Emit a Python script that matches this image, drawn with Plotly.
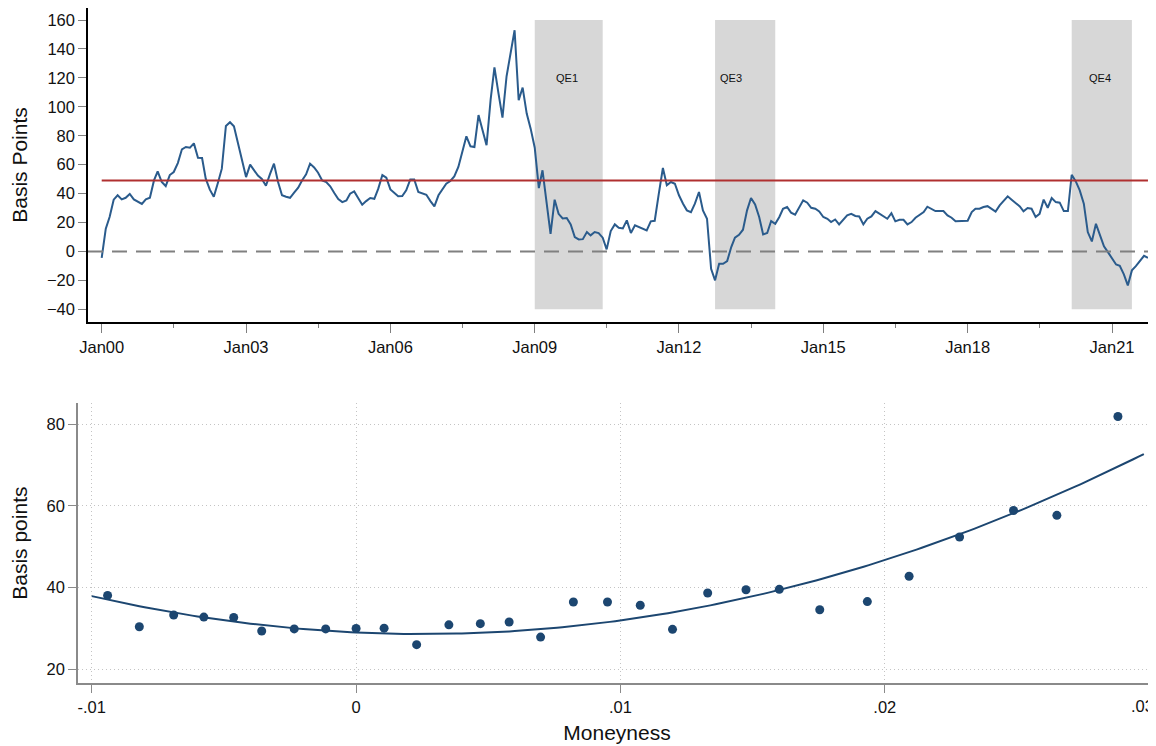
import numpy as np
import pandas as pd
import plotly.graph_objects as go

# ---------------- Top panel data (monthly, starting Jan 2000) ----------------
START_MONTH = "2000-01-01"
spread_bp = [
    -4.4, 15.7, 23.8, 35.8, 38.8, 36.0, 37.1, 39.7, 36.0, 34.6, 32.8, 36.0,      # 2000
    37.1, 49.1, 55.4, 48.0, 45.2, 52.8, 54.9, 61.1, 70.6, 72.2, 71.7, 74.7,      # 2001
    64.8, 64.6, 50.3, 42.7, 37.8, 47.3, 57.2, 86.7, 89.3, 86.5, 75.2, 64.8,      # 2002
    51.4, 60.0, 56.7, 52.4, 50.1, 45.4, 53.3, 60.7, 48.0, 38.8, 37.8, 37.1,      # 2003
    40.6, 44.1, 49.1, 53.3, 60.7, 58.1, 54.4, 49.1, 48.0, 45.0, 40.4, 36.2,      # 2004
    34.1, 35.3, 39.9, 41.5, 36.9, 32.3, 34.8, 36.9, 36.4, 43.4, 52.8, 51.0,      # 2005
    42.9, 40.6, 38.1, 38.3, 42.2, 49.8, 49.8, 41.1, 39.9, 39.2, 34.8, 31.1,      # 2006
    38.8, 42.9, 46.8, 48.7, 51.9, 58.4, 68.0, 79.6, 72.7, 72.2, 94.3, 83.3,      # 2007
    73.4, 105.0, 127.3, 109.1, 92.5, 121.1, 136.8, 152.9, 104.5, 113.3, 95.3, 84.9,  # 2008
    71.7, 43.8, 56.1, 34.0, 12.2, 35.8, 26.0, 22.8, 23.1, 18.7, 9.9, 8.3,        # 2009
    8.5, 13.4, 11.1, 13.4, 12.7, 9.5, 1.4, 14.1, 18.7, 16.4, 15.9, 21.5,         # 2010
    12.7, 18.0, 16.8, 15.7, 14.5, 20.8, 21.2, 39.9, 57.7, 45.7, 48.0, 46.8,      # 2011
    38.8, 33.0, 28.4, 27.2, 33.0, 41.1, 28.4, 22.6, -12.0, -20.0, -8.5, -8.5,    # 2012
    -6.7, 3.0, 9.5, 11.5, 15.0, 28.4, 36.9, 32.5, 23.8, 11.8, 12.7, 21.0,        # 2013
    19.1, 23.8, 29.5, 30.7, 26.8, 25.4, 30.2, 35.3, 33.7, 30.2, 29.5, 27.7,      # 2014
    23.8, 22.6, 20.3, 22.1, 18.7, 22.1, 25.0, 26.0, 24.5, 24.2, 18.7, 22.6,      # 2015
    24.2, 27.9, 26.0, 24.2, 22.6, 26.4, 20.8, 21.9, 21.9, 18.7, 20.3, 23.3,      # 2016
    25.2, 27.2, 30.9, 29.5, 27.9, 27.9, 27.9, 24.9, 23.3, 20.8, 21.0, 21.5,      # 2017
    21.2, 27.2, 29.5, 29.5, 30.7, 31.3, 29.5, 27.5, 31.8, 34.8, 38.1, 35.8,      # 2018
    33.5, 31.1, 27.7, 30.0, 29.5, 23.8, 26.0, 35.8, 30.2, 36.9, 34.1, 33.7,      # 2019
    27.9, 27.9, 53.0, 48.4, 42.2, 33.0, 13.4, 6.9, 19.1, 10.9, 3.5, -0.5,        # 2020
    -4.6, -9.0, -9.9, -15.9, -23.5, -13.1, -10.2, -6.9, -3.0, -4.4,              # 2021
]
benchmark_bp = 49.0
qe_labels = ["QE1", "QE3", "QE4"]
qe_starts = ["2009-01-01", "2012-10-01", "2020-03-01"]
qe_ends = ["2010-06-01", "2014-01-01", "2021-06-01"]
qe_label_dates = ["2009-09-01", "2013-02-01", "2020-10-01"]
qe_label_value = 120
x_tick_dates = ["2000-01-01", "2003-01-01", "2006-01-01", "2009-01-01",
                "2012-01-01", "2015-01-01", "2018-01-01", "2021-01-01"]
x_tick_text = ["Jan00", "Jan03", "Jan06", "Jan09", "Jan12", "Jan15", "Jan18", "Jan21"]
y_ticks_top = [-40, -20, 0, 20, 40, 60, 80, 100, 120, 140, 160]

# ---------------- Bottom panel data ----------------
moneyness = [-0.0094, -0.0082, -0.0069, -0.00576, -0.00463, -0.00357, -0.00234, -0.00115,
             0.0000, 0.00106, 0.00229, 0.00351, 0.0047, 0.00579, 0.00698, 0.00822,
             0.00951, 0.01075, 0.01197, 0.0133, 0.01475, 0.01601, 0.01754, 0.01934,
             0.02092, 0.02283, 0.02487, 0.02651, 0.02882]
basis_pts = [38.1, 30.45, 33.3, 32.8, 32.7, 29.4, 29.9, 29.9,
             30.0, 30.1, 26.05, 30.9, 31.2, 31.6, 27.9, 36.5,
             36.5, 35.7, 29.8, 38.7, 39.5, 39.6, 34.6, 36.6,
             42.8, 52.4, 58.9, 57.7, 81.9]
fit_lo, fit_hi = -0.0100, 0.0298
x_ticks_bottom = [-0.01, 0.0, 0.01, 0.02, 0.03]
x_tick_text_bottom = ["-.01", "0", ".01", ".02", ".03"]
y_ticks_bottom = [20, 40, 60, 80]

# ---------------- Build figure ----------------
FONT = "Liberation Sans, Arial, Helvetica, sans-serif"
BLUE = "#2a5b8c"
NAVY = "#1c4670"
dates = pd.date_range(START_MONTH, periods=len(spread_bp), freq="MS")

fig = go.Figure()
fig.add_trace(go.Scatter(x=dates, y=spread_bp, mode="lines",
                         line=dict(color=BLUE, width=2), xaxis="x", yaxis="y",
                         showlegend=False, hoverinfo="skip"))

coef = np.polyfit(moneyness, basis_pts, 2)
xf = np.linspace(fit_lo, fit_hi, 200)
fig.add_trace(go.Scatter(x=xf, y=np.polyval(coef, xf), mode="lines",
                         line=dict(color=NAVY, width=2), xaxis="x2", yaxis="y2",
                         showlegend=False, hoverinfo="skip"))
fig.add_trace(go.Scatter(x=moneyness, y=basis_pts, mode="markers",
                         marker=dict(color=NAVY, size=9), xaxis="x2", yaxis="y2",
                         showlegend=False, hoverinfo="skip"))

shapes = []
for s, e in zip(qe_starts, qe_ends):
    shapes.append(dict(type="rect", xref="x", yref="y", x0=s, x1=e, y0=-40, y1=160,
                       fillcolor="#d7d7d7", line=dict(width=0), layer="below"))
shapes.append(dict(type="line", xref="x domain", yref="y", x0=0, x1=1, y0=0, y1=0,
                   line=dict(color="#808080", width=2, dash="15px,9px")))
shapes.append(dict(type="line", xref="x", yref="y", x0=dates[0], x1=dates[-1],
                   y0=benchmark_bp, y1=benchmark_bp,
                   line=dict(color="#b03030", width=2)))

tickfont = dict(size=16.5, color="#111111", family=FONT)
titlefont = dict(size=21, color="#111111", family=FONT)

annotations = []
for lab, d in zip(qe_labels, qe_label_dates):
    annotations.append(dict(x=d, y=qe_label_value, xref="x", yref="y", text=lab,
                            showarrow=False, font=dict(size=11, color="#111111", family=FONT)))
# last bottom tick label sits at the page edge: draw it right-aligned so it stays visible
edge_labels = list(x_tick_text_bottom)
annotations.append(dict(x=1, xref="x2 domain", xanchor="right", y=0, yref="y2 domain",
                        yanchor="middle", yshift=-23, text=edge_labels[-1],
                        showarrow=False, font=tickfont))
edge_labels[-1] = ""

# page body adds an 8px margin, so the figure is 8px smaller on each side
fig.update_layout(
    width=1148, height=738,
    margin=dict(l=70, r=0, t=0, b=63, autoexpand=False),
    paper_bgcolor="white", plot_bgcolor="white",
    font=dict(family=FONT),
    shapes=shapes, annotations=annotations,
    xaxis=dict(domain=[0.00928, 1.0], anchor="y", type="date", automargin=False,
               range=["1999-09-19", "2021-12-01"],
               tickmode="array", tickvals=x_tick_dates, ticktext=x_tick_text,
               ticks="outside", ticklen=9, tickwidth=1, tickcolor="#7f7f7f",
               minor=dict(ticks="outside", dtick="M18", tick0="2000-01-01",
                          ticklen=4, tickcolor="#7f7f7f", showgrid=False),
               showline=True, linecolor="#000000", linewidth=1.5,
               showgrid=False, zeroline=False, tickfont=tickfont),
    yaxis=dict(domain=[0.5348, 1.0], anchor="x", automargin=False,
               range=[-48.8, 168.3], tickmode="array", tickvals=y_ticks_top,
               ticks="outside", ticklen=8, tickwidth=1, tickcolor="#7f7f7f",
               showline=True, linecolor="#000000", linewidth=1.5,
               showgrid=False, zeroline=False, tickfont=tickfont,
               title=dict(text="Basis Points", font=titlefont, standoff=22)),
    xaxis2=dict(domain=[0.0, 1.0], anchor="y2", automargin=False,
                range=[-0.01052, 0.03026], tickmode="array",
                tickvals=x_ticks_bottom, ticktext=edge_labels,
                ticks="outside", ticklen=8, tickwidth=1, tickcolor="#8a8a8a",
                showline=True, linecolor="#8a8a8a", linewidth=1.5,
                showgrid=True, gridcolor="#c4c4c4", griddash="1px,3px", gridwidth=1,
                zeroline=False, tickfont=tickfont,
                title=dict(text="Moneyness", font=titlefont, standoff=11)),
    yaxis2=dict(domain=[0.0, 0.4144], anchor="x2", automargin=False,
                range=[16.67, 85.13], tickmode="array", tickvals=y_ticks_bottom,
                ticks="outside", ticklen=8, tickwidth=1, tickcolor="#8a8a8a",
                showline=True, linecolor="#8a8a8a", linewidth=1.5,
                showgrid=True, gridcolor="#c4c4c4", griddash="1px,3px", gridwidth=1,
                zeroline=False, tickfont=tickfont,
                title=dict(text="Basis points", font=titlefont, standoff=16)),
)

fig.write_html("out.html")
